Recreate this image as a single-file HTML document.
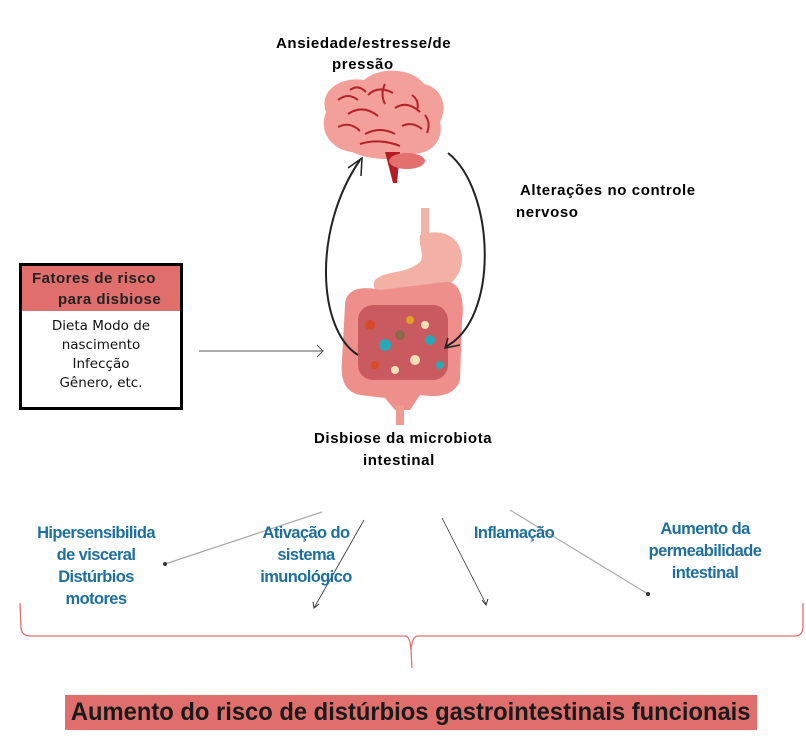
<!DOCTYPE html>
<html><head><meta charset="utf-8"><style>
body{margin:0;width:806px;height:753px;background:#fff;position:relative;overflow:hidden;font-family:"Liberation Sans",Arial,sans-serif}
.t{position:absolute;font-weight:bold;font-size:15px;letter-spacing:0.6px;line-height:22px;color:#000;white-space:nowrap}
.b{position:absolute;font-weight:bold;font-size:16.5px;line-height:22px;color:#1f6f9c;text-align:center;white-space:nowrap;letter-spacing:-0.6px}
</style></head><body>
<svg width="806" height="753" style="position:absolute;left:0;top:0">
<!-- brain -->
<path d="M326 112 C318 90 342 76 364 80 C380 66 412 68 424 84 C442 88 448 106 440 122 C444 140 432 154 412 154 C400 162 368 160 352 152 C332 150 318 132 326 112Z" fill="#f4a09a"/>
<path d="M338 100 q10 -8 20 0 M348 114 q15 -10 30 2 M368 95 q10 -10 25 -2 M395 108 q12 -8 25 4 M338 127 q12 -6 22 4 M365 134 q15 -8 30 0 M402 126 q10 -5 20 3 M360 144 q20 -6 40 2 M412 95 q8 6 5 15 M385 84 q-5 10 0 20 M350 90 q8 -6 16 2 M425 115 q6 8 2 18" stroke="#b3232a" stroke-width="2" fill="none"/>
<path d="M385 152 L400 152 L397 183 L393 183Z" fill="#b51d24"/>
<ellipse cx="407" cy="161" rx="18" ry="8" fill="#e36f6f"/>
<!-- stomach -->
<rect x="421" y="208" width="8" height="30" fill="#f2b2a6"/>
<path d="M420 235 C450 225 468 245 460 270 C452 292 420 300 395 290 C380 296 370 290 375 280 C385 270 405 275 420 262 C425 255 418 245 420 235Z" fill="#f3b0a5"/>
<!-- intestines -->
<path d="M345 305 C345 290 360 285 380 290 L445 282 C460 280 465 300 462 320 L460 380 C455 395 440 398 420 395 L410 410 L395 410 L385 398 L360 395 C345 392 340 380 342 360Z" fill="#ee8f8c"/>
<rect x="358" y="305" width="90" height="75" rx="15" fill="#c95a5f"/>
<circle cx="370" cy="325" r="5" fill="#d94a2a"/><circle cx="410" cy="320" r="4" fill="#e0a020"/>
<circle cx="385" cy="345" r="6" fill="#29a8b8"/><circle cx="430" cy="340" r="5" fill="#29a8b8"/>
<circle cx="400" cy="335" r="5" fill="#8a6a4a"/><circle cx="415" cy="360" r="5" fill="#f1e0b8"/>
<circle cx="375" cy="365" r="4" fill="#d94a2a"/><circle cx="440" cy="365" r="4" fill="#29a8b8"/>
<circle cx="395" cy="370" r="4" fill="#f1e0b8"/><circle cx="425" cy="325" r="4" fill="#f1e0b8"/>
<rect x="396" y="405" width="8" height="20" fill="#ee9a92"/>
<!-- curved arrows -->
<path d="M358 355 C318 330 312 230 360 160" stroke="#222" stroke-width="2" fill="none"/>
<path d="M348 168 L362 158 L361 176" stroke="#222" stroke-width="1.5" fill="none"/>
<path d="M448 153 C495 190 500 320 445 347" stroke="#222" stroke-width="2" fill="none"/>
<path d="M448 338 L445 348 L460 345" stroke="#222" stroke-width="1.5" fill="none"/>
<!-- box arrow -->
<line x1="199" y1="351" x2="323" y2="351" stroke="#555" stroke-width="1"/>
<path d="M317 345 L323 351 L317 357" stroke="#555" fill="none"/>
<!-- lower arrows -->
<line x1="322" y1="512" x2="165" y2="564" stroke="#aaa" stroke-width="1.2"/>
<circle cx="165" cy="564" r="2" fill="#333"/>
<line x1="364" y1="520" x2="314" y2="608" stroke="#333" stroke-width="0.8"/>
<path d="M313 602 L314 608 L319 604" stroke="#333" fill="none"/>
<line x1="442" y1="518" x2="486" y2="604" stroke="#333" stroke-width="0.8"/>
<path d="M482 600 L486 605 L488 599" stroke="#333" fill="none"/>
<line x1="510" y1="510" x2="648" y2="594" stroke="#aaa" stroke-width="1.2"/>
<circle cx="648" cy="594" r="2" fill="#333"/>
<!-- brace -->
<path d="M20 603 L21 628 Q22 636 30 636 L405 636 Q410 636 411 650 L412 668 M411 650 Q412 636 418 636 L795 636 Q802 636 803 628 L803 603" stroke="#e07070" stroke-width="1.3" fill="none"/>
</svg>
<div class="t" style="left:276px;top:33px">Ansiedade/estresse/de</div>
<div class="t" style="left:332px;top:54px">pressão</div>
<div class="t" style="left:520px;top:180px">Alterações no controle</div>
<div class="t" style="left:516px;top:202px">nervoso</div>
<div class="t" style="left:314px;top:428px">Disbiose da microbiota</div>
<div class="t" style="left:363px;top:450px">intestinal</div>
<div style="position:absolute;left:19px;top:263px;width:158px;height:141px;border:3px solid #000;background:#fff">
<div style="height:45px;background:#e06e6c;font-weight:bold;font-size:15px;letter-spacing:0.5px;line-height:21px;color:#222;padding-top:2px;box-sizing:border-box"><div style="padding-left:10px">Fatores de risco</div><div style="padding-left:36px">para disbiose</div></div>
<div style="text-align:center;font-family:'DejaVu Sans',sans-serif;font-size:13.5px;line-height:19px;padding-top:6px;color:#111">Dieta Modo de<br>nascimento<br>Infecção<br>Gênero, etc.</div>
</div>
<div class="b" style="left:20px;top:522px;width:152px">Hipersensibilida<br>de visceral<br>Distúrbios<br>motores</div>
<div class="b" style="left:236px;top:522px;width:140px">Ativação do<br>sistema<br>imunológico</div>
<div class="b" style="left:454px;top:522px;width:120px">Inflamação</div>
<div class="b" style="left:645px;top:518px;width:120px">Aumento da<br>permeabilidade<br>intestinal</div>
<div style="position:absolute;left:65px;top:695px;width:692px;height:35px;background:#e06e6c"></div>
<div style="position:absolute;left:40px;top:695px;width:742px;height:35px;line-height:35px;text-align:center;font-weight:bold;font-size:25px;color:#1a1a1a;white-space:nowrap"><span style="display:inline-block;transform:scaleX(0.95)">Aumento do risco de distúrbios gastrointestinais funcionais</span></div>
</body></html>
